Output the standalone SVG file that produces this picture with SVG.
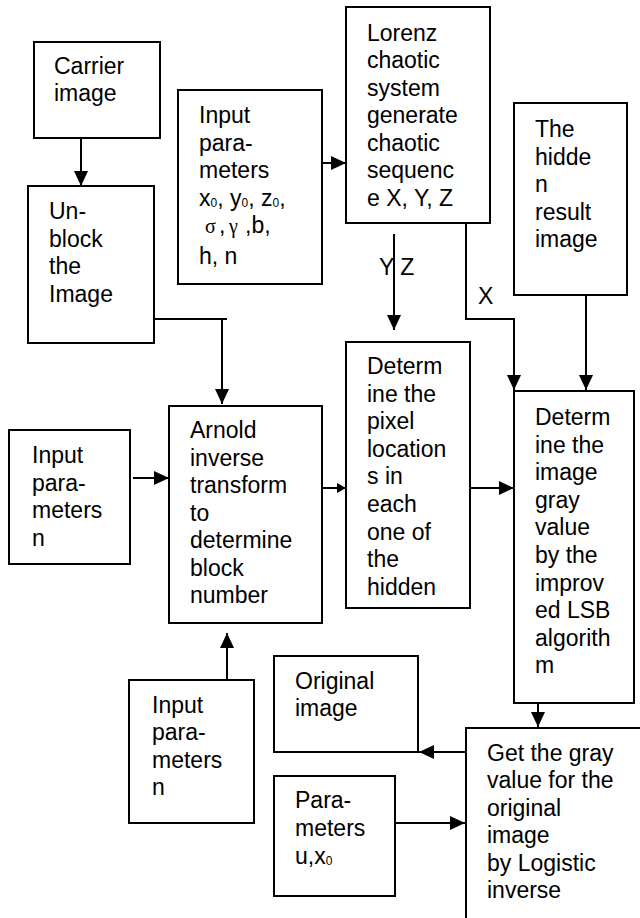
<svg xmlns="http://www.w3.org/2000/svg" width="640" height="918" viewBox="0 0 640 918">
<style>
  .box { fill: #ffffff; stroke: #000000; stroke-width: 2; }
  .t { font-family: "Liberation Sans", Arial, sans-serif; font-size: 23px; fill: #000000; }
  .sub { font-size: 12px; }
  .sym { font-family: "Liberation Serif", "Times New Roman", serif; font-size: 20px; }
  .ln { fill: none; stroke: #000000; stroke-width: 2; }
  .arr { fill: none; stroke: #000000; stroke-width: 2; marker-end: url(#ah); }
  .arrs { fill: none; stroke: #000000; stroke-width: 2; marker-end: url(#ahs); }
</style>
<defs>
  <marker id="ah" markerUnits="userSpaceOnUse" markerWidth="15" markerHeight="14" refX="15" refY="7" orient="auto">
    <path d="M0,0 L15,7 L0,14 Z" fill="#000000"/>
  </marker>
  <marker id="ahs" markerUnits="userSpaceOnUse" markerWidth="9" markerHeight="10" refX="9" refY="5" orient="auto">
    <path d="M0,0 L9,5 L0,10 Z" fill="#000000"/>
  </marker>
</defs>
<rect x="0" y="0" width="640" height="918" fill="#ffffff"/>

<g id="connectors">
  <line class="arr" x1="81" y1="138" x2="81" y2="186"/>
  <line class="arr" x1="322" y1="163" x2="346" y2="163"/>
  <polyline class="ln" points="154,319 227,319"/>
  <line class="arr" x1="222" y1="319" x2="222" y2="404"/>
  <line class="arr" x1="133" y1="478" x2="169" y2="478"/>
  <line class="arrs" x1="322" y1="488" x2="346" y2="488"/>
  <line class="arr" x1="394" y1="234" x2="394" y2="330"/>
  <polyline class="arr" points="466,223 466,319 514,319 514,390"/>
  <line class="arr" x1="586" y1="295" x2="586" y2="390"/>
  <line class="arr" x1="466" y1="488" x2="514" y2="488"/>
  <line class="arr" x1="227" y1="680" x2="227" y2="633"/>
  <line class="arr" x1="538" y1="703" x2="538" y2="727"/>
  <line class="arr" x1="466" y1="752" x2="419" y2="752"/>
  <line class="arr" x1="395" y1="823" x2="465" y2="823"/>
  <text class="t" x="379" y="275">Y Z</text>
  <text class="t" x="478" y="304">X</text>
</g>

<g id="carrier">
  <rect class="box" x="34" y="42" width="126" height="96"/>
  <text class="t"><tspan x="54" y="74">Carrier</tspan><tspan x="54" y="101">image</tspan></text>
</g>

<g id="unblock">
  <rect class="box" x="28" y="186" width="126" height="157"/>
  <text class="t"><tspan x="49" y="219">Un-</tspan><tspan x="49" y="246.5">block</tspan><tspan x="49" y="274">the</tspan><tspan x="49" y="301.5">Image</tspan></text>
</g>

<g id="input-lorenz-params">
  <rect class="box" x="178" y="90" width="144" height="194"/>
  <text class="t"><tspan x="199" y="123">Input</tspan><tspan x="199" y="150.5">para-</tspan><tspan x="199" y="178">meters</tspan></text>
  <text class="t" x="199" y="206">x<tspan class="sub" dy="1">0</tspan><tspan dy="-1">, y</tspan><tspan class="sub" dy="1">0</tspan><tspan dy="-1">, z</tspan><tspan class="sub" dy="1">0</tspan><tspan dy="-1">,</tspan></text>
  <text class="t" y="233"><tspan class="sym" x="205">σ</tspan><tspan x="219">,</tspan><tspan class="sym" x="229">γ</tspan><tspan x="245">,b,</tspan></text>
  <text class="t" x="199" y="264">h, n</text>
</g>

<g id="lorenz">
  <rect class="box" x="346" y="7" width="144" height="216"/>
  <text class="t"><tspan x="367" y="40.5">Lorenz</tspan><tspan x="367" y="68">chaotic</tspan><tspan x="367" y="95.5">system</tspan><tspan x="367" y="123">generate</tspan><tspan x="367" y="150.5">chaotic</tspan><tspan x="367" y="178">sequenc</tspan><tspan x="367" y="205.5">e X, Y, Z</tspan></text>
</g>

<g id="hidden-result">
  <rect class="box" x="514" y="103" width="113" height="192"/>
  <text class="t"><tspan x="535" y="137">The</tspan><tspan x="535" y="164.5">hidde</tspan><tspan x="535" y="192">n</tspan><tspan x="535" y="219.5">result</tspan><tspan x="535" y="247">image</tspan></text>
</g>

<g id="input-n-left">
  <rect class="box" x="9" y="430" width="121" height="134"/>
  <text class="t"><tspan x="32" y="463">Input</tspan><tspan x="32" y="490.5">para-</tspan><tspan x="32" y="518">meters</tspan><tspan x="32" y="545.5">n</tspan></text>
</g>

<g id="arnold">
  <rect class="box" x="169" y="406" width="153" height="217"/>
  <text class="t"><tspan x="190" y="438">Arnold</tspan><tspan x="190" y="465.5">inverse</tspan><tspan x="190" y="493">transform</tspan><tspan x="190" y="520.5">to</tspan><tspan x="190" y="548">determine</tspan><tspan x="190" y="575.5">block</tspan><tspan x="190" y="603">number</tspan></text>
</g>

<g id="pixel-locations">
  <rect class="box" x="346" y="342" width="124" height="266"/>
  <text class="t"><tspan x="367" y="374">Determ</tspan><tspan x="367" y="401.6">ine the</tspan><tspan x="367" y="429.2">pixel</tspan><tspan x="367" y="456.8">location</tspan><tspan x="367" y="484.4">s in</tspan><tspan x="367" y="512">each</tspan><tspan x="367" y="539.6">one of</tspan><tspan x="367" y="567.2">the</tspan><tspan x="367" y="594.8">hidden</tspan></text>
</g>

<g id="lsb">
  <rect class="box" x="514" y="391" width="120" height="312"/>
  <text class="t"><tspan x="535" y="425">Determ</tspan><tspan x="535" y="452.6">ine the</tspan><tspan x="535" y="480.2">image</tspan><tspan x="535" y="507.8">gray</tspan><tspan x="535" y="535.4">value</tspan><tspan x="535" y="563">by the</tspan><tspan x="535" y="590.6">improv</tspan><tspan x="535" y="618.2">ed LSB</tspan><tspan x="535" y="645.8">algorith</tspan><tspan x="535" y="673.4">m</tspan></text>
</g>

<g id="input-n-bottom">
  <rect class="box" x="129" y="680" width="125" height="143"/>
  <text class="t"><tspan x="152" y="712.7">Input</tspan><tspan x="152" y="740">para-</tspan><tspan x="152" y="767.5">meters</tspan><tspan x="152" y="795">n</tspan></text>
</g>

<g id="original-image">
  <rect class="box" x="274" y="656" width="144" height="96"/>
  <text class="t"><tspan x="295" y="689">Original</tspan><tspan x="295" y="716">image</tspan></text>
</g>

<g id="parameters-u">
  <rect class="box" x="274" y="776" width="121" height="120"/>
  <text class="t"><tspan x="295" y="808.3">Para-</tspan><tspan x="295" y="835.8">meters</tspan></text>
  <text class="t" x="295" y="864">u,x<tspan class="sub" dy="1">0</tspan></text>
</g>

<g id="logistic-inverse">
  <rect class="box" x="466" y="728" width="200" height="220"/>
  <text class="t"><tspan x="487" y="760.5">Get the gray</tspan><tspan x="487" y="788">value for the</tspan><tspan x="487" y="815.5">original</tspan><tspan x="487" y="843">image</tspan><tspan x="487" y="870.5">by Logistic</tspan><tspan x="487" y="898">inverse</tspan></text>
</g>
</svg>
